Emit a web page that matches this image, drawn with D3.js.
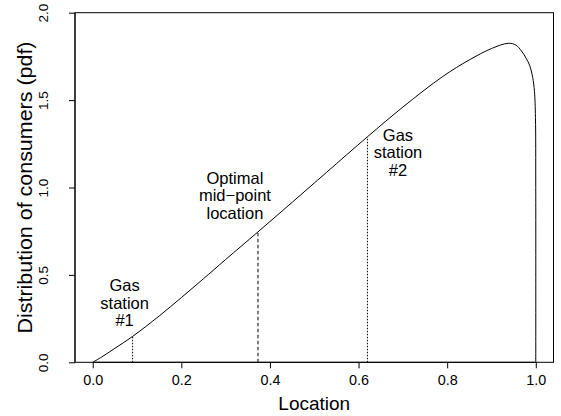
<!DOCTYPE html>
<html>
<head>
<meta charset="utf-8">
<script src="https://cdn.jsdelivr.net/npm/d3@7"></script>
<style>
  html, body { margin: 0; padding: 0; background: #fff; }
  svg { display: block; }
  text { font-family: "Liberation Sans", Arial, Helvetica, sans-serif; fill: #000; }
</style>
</head>
<body>
<svg id="chart" width="561" height="416"></svg>
<script>
// ---- data ----
const curveX = [0, 0.02, 0.05, 0.09, 0.15, 0.20, 0.25, 0.30, 0.373, 0.45, 0.527, 0.62, 0.70, 0.79, 0.85, 0.90, 0.938, 0.955, 0.968, 0.978, 0.986, 0.993, 0.997, 0.9993, 0.99995, 1.0];
const curveY = [0, 0.03, 0.08, 0.148, 0.265, 0.37, 0.478, 0.588, 0.746, 0.915, 1.085, 1.29, 1.46, 1.635, 1.73, 1.795, 1.825, 1.815, 1.78, 1.74, 1.70, 1.63, 1.55, 1.40, 1.0, 0];

const markerX = [0.09, 0.373, 0.62];
const markerY = [0.148, 0.746, 1.29];
const markerDash = ["1.5,1.5", "3.5,2.5", "1.5,1.5"];

const labelLines = [["Gas", "station", "#1"], ["Optimal", "mid\u2212point", "location"], ["Gas", "station", "#2"]];
const labelX = [0.072, 0.321, 0.689];
const labelY = [0.44, 1.054, 1.30];

const xTicks = [0, 0.2, 0.4, 0.6, 0.8, 1.0];
const yTicks = [0, 0.5, 1.0, 1.5, 2.0];
const xTitle = "Location";
const yTitle = "Distribution of consumers (pdf)";

// ---- layout ----
const svg = d3.select("#chart");
const pL = 75, pR = 553.5, pT = 12.7, pB = 362.3;
const x = d3.scaleLinear().domain([-0.04, 1.04]).range([pL, pR]);
const y = d3.scaleLinear().domain([0, 2]).range([pB, pT]);
const fmt = d3.format(".1f");

// box
svg.append("rect")
  .attr("x", pL).attr("y", pT)
  .attr("width", pR - pL).attr("height", pB - pT)
  .attr("fill", "none").attr("stroke", "#000").attr("stroke-width", 1);

// x axis
const gx = svg.append("g").attr("transform", `translate(0,${pB})`)
  .call(d3.axisBottom(x).tickValues(xTicks).tickSize(6).tickPadding(6).tickFormat(fmt));
gx.select(".domain").attr("d", `M${x(0)},0H${x(1)}`).attr("stroke", "#000");
gx.selectAll(".tick line").attr("stroke", "#000");
gx.selectAll(".tick text").attr("font-size", 14.4).attr("font-family", null).attr("fill", "#000");

// y axis
const gy = svg.append("g").attr("transform", `translate(${pL},0)`)
  .call(d3.axisLeft(y).tickValues(yTicks).tickSize(6).tickFormat(fmt));
gy.select(".domain").attr("d", `M0,${y(0)}V${y(2)}`).attr("stroke", "#000");
gy.selectAll(".tick line").attr("stroke", "#000");
gy.selectAll(".tick text")
  .attr("font-size", 13.5).attr("font-family", null).attr("fill", "#000")
  .attr("x", null).attr("dy", null)
  .attr("text-anchor", "middle")
  .attr("dominant-baseline", "central")
  .attr("transform", "translate(-32,0) rotate(-90)");

// axis titles
svg.append("text").attr("x", x(0.5)).attr("y", 403)
  .attr("text-anchor", "middle").attr("dominant-baseline", "central")
  .attr("font-size", 19).text(xTitle);
svg.append("text")
  .attr("transform", `translate(25,${(pT + pB) / 2}) rotate(-90)`)
  .attr("text-anchor", "middle").attr("dominant-baseline", "central")
  .attr("font-size", 20).attr("textLength", 292).attr("lengthAdjust", "spacingAndGlyphs")
  .text(yTitle);

// density curve
const pts = curveX.map((d, i) => [d, curveY[i]]);
svg.append("path").datum(pts)
  .attr("fill", "none").attr("stroke", "#000").attr("stroke-width", 1)
  .attr("d", d3.line().x(d => x(d[0])).y(d => y(d[1])).curve(d3.curveCatmullRom.alpha(0.5)));

// marker lines
markerX.forEach((mx, i) => {
  svg.append("line")
    .attr("x1", x(mx)).attr("x2", x(mx))
    .attr("y1", y(0)).attr("y2", y(markerY[i]))
    .attr("stroke", "#000").attr("stroke-width", 1)
    .attr("stroke-dasharray", markerDash[i]);
});

// labels
labelLines.forEach((lines, i) => {
  const t = svg.append("text")
    .attr("x", x(labelX[i])).attr("y", y(labelY[i]))
    .attr("text-anchor", "middle").attr("font-size", 16.5);
  lines.forEach((ln, j) => {
    t.append("tspan").attr("x", x(labelX[i])).attr("dy", j === 0 ? "0.35em" : 17.5).text(ln);
  });
});
</script>
</body>
</html>
